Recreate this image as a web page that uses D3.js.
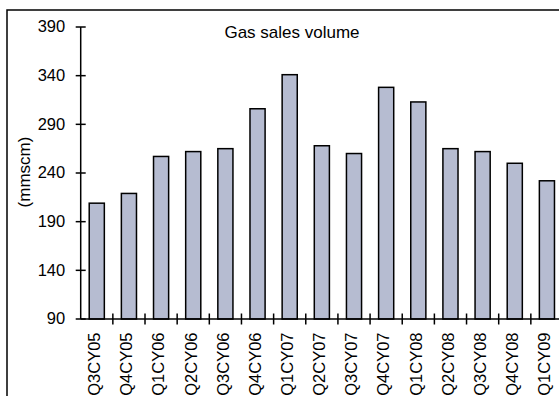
<!DOCTYPE html>
<html>
<head>
<meta charset="utf-8">
<script src="https://cdn.jsdelivr.net/npm/d3@7"></script>
<style>
  html, body { margin: 0; padding: 0; background: #fff; }
  svg { display: block; }
  text { font-family: "Liberation Sans", Arial, sans-serif; fill: #000; }
</style>
</head>
<body>
<svg id="chart" width="559" height="396"></svg>
<script>
// Quarterly gas sales volume, mmscm
const quarters = ["Q3CY05","Q4CY05","Q1CY06","Q2CY06","Q3CY06","Q4CY06","Q1CY07","Q2CY07",
                  "Q3CY07","Q4CY07","Q1CY08","Q2CY08","Q3CY08","Q4CY08","Q1CY09"];
const volumes  = [209, 219, 257, 262, 265, 306, 341, 268, 260, 328, 313, 265, 262, 250, 232];
const yTicks   = [90, 140, 190, 240, 290, 340, 390];
const title    = "Gas sales volume";
const yLabel   = "(mmscm)";

const svg = d3.select("#chart");

const plotLeft = 80.7, plotRight = 563, plotTop = 27, plotBottom = 319;

const x = d3.scaleBand()
  .domain(quarters)
  .range([plotLeft, plotRight])
  .paddingInner(0.53)
  .paddingOuter(0.265);

const y = d3.scaleLinear()
  .domain([90, 390])
  .range([plotBottom, plotTop]);

// chart frame (runs off the right and bottom edges)
svg.append("rect")
  .attr("x", 7).attr("y", 10)
  .attr("width", 700).attr("height", 500)
  .attr("fill", "none")
  .attr("stroke", "#000")
  .attr("stroke-width", 1.5);

// bars
svg.append("g")
  .selectAll("rect")
  .data(volumes)
  .join("rect")
  .attr("x", (d, i) => x(quarters[i]))
  .attr("y", d => y(d))
  .attr("width", x.bandwidth())
  .attr("height", d => y(90) - y(d))
  .attr("fill", "#b6bcd1")
  .attr("stroke", "#000")
  .attr("stroke-width", 1.5);

// y axis
const gy = svg.append("g");
gy.append("line")
  .attr("x1", plotLeft).attr("x2", plotLeft)
  .attr("y1", y(390)).attr("y2", y(90))
  .attr("stroke", "#000").attr("stroke-width", 1.5);
gy.selectAll("line.tick")
  .data(yTicks)
  .join("line")
  .attr("class", "tick")
  .attr("x1", plotLeft - 5).attr("x2", plotLeft + 5)
  .attr("y1", d => y(d)).attr("y2", d => y(d))
  .attr("stroke", "#000").attr("stroke-width", 1.5);
gy.selectAll("text")
  .data(yTicks)
  .join("text")
  .attr("x", plotLeft - 15.5)
  .attr("y", d => y(d))
  .attr("dy", "0.33em")
  .attr("text-anchor", "end")
  .attr("font-size", 16.5)
  .text(d => d);

// x axis with ticks between categories
const gx = svg.append("g");
gx.append("line")
  .attr("x1", plotLeft).attr("x2", 600)
  .attr("y1", y(90)).attr("y2", y(90))
  .attr("stroke", "#000").attr("stroke-width", 1.5);
const step = x.step();
gx.selectAll("line.tick")
  .data(quarters)
  .join("line")
  .attr("class", "tick")
  .attr("x1", (d, i) => plotLeft + (i + 1) * step)
  .attr("x2", (d, i) => plotLeft + (i + 1) * step)
  .attr("y1", y(90) - 5.5).attr("y2", y(90) + 5.5)
  .attr("stroke", "#000").attr("stroke-width", 1.5);
gx.selectAll("text")
  .data(quarters)
  .join("text")
  .attr("transform", d => `translate(${x(d) + x.bandwidth() / 2 - 2.5},${y(90) + 13.5}) rotate(-90)`)
  .attr("dy", "0.35em")
  .attr("text-anchor", "end")
  .attr("font-size", 16.5)
  .text(d => d);

// title
svg.append("text")
  .attr("x", 292)
  .attr("y", 37.5)
  .attr("text-anchor", "middle")
  .attr("font-size", 17)
  .text(title);

// y axis title
svg.append("text")
  .attr("transform", "translate(24,172) rotate(-90)")
  .attr("dy", "0.35em")
  .attr("text-anchor", "middle")
  .attr("font-size", 17)
  .text(yLabel);
</script>
</body>
</html>
